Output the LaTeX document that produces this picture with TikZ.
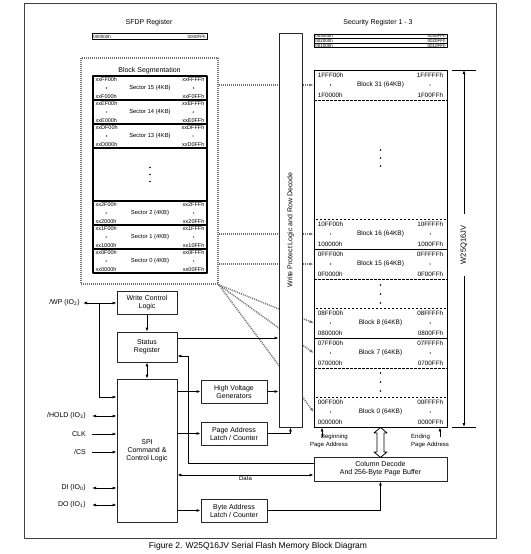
\documentclass[tikz,border=0pt]{standalone}
\usepackage{fontspec}
\setmainfont{Liberation Sans}
\usetikzlibrary{arrows.meta,positioning,calc}

% one sector / block row with its four addresses
\newcommand\memrow[8]
{
\node[#3] (#1) at (#2) {#4};
\node[addr,anchor=north west] (#1tl) at (#1.north west) {#5};
\node[addr,anchor=north east] (#1tr) at (#1.north east) {#6};
\node[addr,anchor=south west] (#1bl) at (#1.south west) {#7};
\node[addr,anchor=south east] (#1br) at (#1.south east) {#8};
\fill (#1tl |- #1) circle (0.7);
\fill (#1tr |- #1) circle (0.7);
}
\newcommand\regrow[4]
{
\node[regbox] (#1) at (380.5,#2) {};
\node[regtxt,anchor=west] (#1l) at (#1.west) {#3};
\node[regtxt,anchor=east] (#1r) at (#1.east) {#4};
}

\begin{document}
\begin{tikzpicture}[x=1pt, y=-1pt, line join=round, >={Latex[length=4pt,width=3pt]},
  lbl/.style={font=\fontsize{7}{8}\selectfont},
  sig/.style={font=\fontsize{7}{8}\selectfont, inner sep=0pt, anchor=east},
  note/.style={font=\fontsize{6}{7.5}\selectfont, inner sep=1pt},
  logic/.style={draw=black!85, line width=0.8pt, fill=white, minimum width=60pt, minimum height=23pt, align=center, font=\fontsize{7}{8}\selectfont, inner sep=1pt},
  regbox/.style={draw, line width=0.7pt, minimum width=133pt, minimum height=4.6pt, inner sep=0pt},
  regtxt/.style={font=\fontsize{4.5}{5}\selectfont, inner sep=1.5pt},
  secbox/.style={draw, line width=1.1pt, minimum width=114pt, minimum height=24pt, inner sep=0pt, font=\fontsize{5.8}{6.5}\selectfont},
  blkbox/.style={draw, line width=0.7pt, dash pattern=on 2.5pt off 1.5pt, minimum width=133pt, minimum height=30pt, inner sep=0pt, font=\fontsize{6.5}{7}\selectfont},
  dotline/.style={draw=black!55, line width=1.5pt, dash pattern=on 1pt off 1pt},
  wire/.style={line width=0.8pt}]
\useasboundingbox (0,0) rectangle (530,554);
\draw[black!75, line width=0.8pt] (24,3) rectangle (496,538);

% SFDP and security registers
\node[lbl] (sfdpt) at (149,23) {SFDP Register};
\node[regbox, minimum width=115pt, minimum height=5.5pt] (sfdp) at (149.5,36.5) {};
\node[regtxt, anchor=west] (sfdpl) at (sfdp.west) {000000h};
\node[regtxt, anchor=east] (sfdpr) at (sfdp.east) {0000FFh};
\node[lbl] (secrt) at (378,23) {Security Register 1 - 3};
\regrow{sr3}{36.3}{003000h}{0030FFh}
\regrow{sr2}{40.9}{002000h}{0020FFh}
\regrow{sr1}{45.5}{001000h}{0010FFh}

% block segmentation
\node[dotline, minimum width=137pt, minimum height=226pt, inner sep=0pt] (seg) at (149.5,171) {};
\node[lbl] (segt) at (149.5,71) {Block Segmentation};
\begin{scope}[addr/.style={font=\fontsize{5.5}{6}\selectfont, inner xsep=3pt, inner ysep=2.2pt}]
\memrow{s15}{150,88}{secbox}{Sector 15 (4KB)}{xxFF00h}{xxFFFFh}{xxF000h}{xxF0FFh}
\memrow{s14}{150,112}{secbox}{Sector 14 (4KB)}{xxEF00h}{xxEFFFh}{xxE000h}{xxE0FFh}
\memrow{s13}{150,136}{secbox}{Sector 13 (4KB)}{xxDF00h}{xxDFFFh}{xxD000h}{xxD0FFh}
\memrow{s2}{150,213}{secbox}{Sector 2 (4KB)}{xx2F00h}{xx2FFFh}{xx2000h}{xx20FFh}
\memrow{s1}{150,237}{secbox}{Sector 1 (4KB)}{xx1F00h}{xx1FFFh}{xx1000h}{xx10FFh}
\memrow{s0}{150,261}{secbox}{Sector 0 (4KB)}{xx0F00h}{xx0FFFh}{xx0000h}{xx00FFh}
\end{scope}
\node[secbox, minimum height=53pt] (sgap) at (150,174.5) {};
\foreach \d in {-7,0,7} \fill (sgap) ++(0,\d) circle (0.8);

% memory array
\begin{scope}[addr/.style={font=\fontsize{6.3}{7}\selectfont, inner xsep=4pt, inner ysep=3pt}]
\memrow{b31}{380.5,85}{blkbox}{Block 31 (64KB)}{1FFF00h}{1FFFFFh}{1F0000h}{1F00FFh}
\memrow{b16}{380.5,234}{blkbox}{Block 16 (64KB)}{10FF00h}{10FFFFh}{100000h}{1000FFh}
\memrow{b15}{380.5,264}{blkbox}{Block 15 (64KB)}{0FFF00h}{0FFFFFh}{0F0000h}{0F00FFh}
\memrow{b8}{380.5,323}{blkbox}{Block 8 (64KB)}{08FF00h}{08FFFFh}{080000h}{0800FFh}
\memrow{b7}{380.5,353}{blkbox}{Block 7 (64KB)}{07FF00h}{07FFFFh}{070000h}{0700FFh}
\memrow{b0}{380.5,412}{blkbox}{Block 0 (64KB)}{00FF00h}{00FFFFh}{000000h}{0000FFh}
\end{scope}
\node[draw, line width=0.9pt, minimum width=133pt, minimum height=357pt, inner sep=0pt] (arr) at (380.5,248.5) {};
\foreach \y in {150,158,166,285,294,303,373,382,391} \fill (380.5,\y) circle (0.8);

% chip size
\coordinate (dtop) at (464,70);
\coordinate (dbot) at (464,427);
\draw[wire] ([xshift=-12pt]dtop) -- ([xshift=12pt]dtop);
\draw[wire] ([xshift=-12pt]dbot) -- ([xshift=12pt]dbot);
\node[rotate=90, font=\fontsize{7.5}{8}\selectfont, inner xsep=12pt] (chip) at (464,245) {W25Q16JV};
\draw[wire,->] (chip.east) -- (dtop);
\draw[wire,->] (chip.west) -- (dbot);

% segmentation links
\draw[dotline,->] (seg.east |- b31.west) -- (b31.west);
\draw[dotline,->] (seg.east |- b16.west) -- (b16.west);
\draw[dotline,->] (seg.east |- b15.west) -- (b15.west);
\foreach \b in {b8,b7,b0} \draw[dotline,->] (seg.south east) -- (\b.west);

% write protect / row decode
\node[logic, minimum width=23pt, minimum height=394pt] (wpl) at (290.5,230) {};
\node[lbl, rotate=90] (wplt) at (wpl) {Write Protect Logic and Row Decode};

% control blocks
\node[logic] (wcl) at (147,302.5) {Write Control\\Logic};
\node[logic, minimum height=30pt] (sreg) at (147,347) {Status\\Register};
\node[logic, minimum height=143pt] (spi) at (147,450.5) {SPI\\Command \&\\Control Logic};
\node[logic, minimum width=66pt] (hvg) at (234,391.5) {High Voltage\\Generators};
\node[logic, minimum width=66pt] (pal) at (234,433.5) {Page Address\\Latch / Counter};
\node[logic, minimum width=66pt] (bal) at (234,510.5) {Byte Address\\Latch / Counter};
\node[logic, minimum width=133pt, minimum height=24pt] (cdb) at (380.5,469) {Column Decode\\And 256-Byte Page Buffer};

% pins
\node[sig] (wp) at (80,303) {/WP (IO\textsubscript{2})};
\node[sig] (hold) at (86,416) {/HOLD (IO\textsubscript{3})};
\node[sig] (clk) at (86,434) {CLK};
\node[sig] (cs) at (86,452) {/CS};
\node[sig] (di) at (86,488) {DI (IO\textsubscript{0})};
\node[sig] (do) at (86,505) {DO (IO\textsubscript{1})};
\draw[wire,<->] ([xshift=3pt]wp.east) -- (wp.east -| wcl.west);
\coordinate (wpj) at (99,303);
\draw[wire,->] (wpj) |- (spi.west |- 0,397);
\draw[wire,<->] ([xshift=6pt]hold.east) -- (hold.east -| spi.west);
\draw[wire,->] ([xshift=6pt]clk.east) -- (clk.east -| spi.west);
\draw[wire,->] ([xshift=6pt]cs.east) -- (cs.east -| spi.west);
\draw[wire,<->] ([xshift=6pt]di.east) -- (di.east -| spi.west);
\draw[wire,<->] ([xshift=6pt]do.east) -- (do.east -| spi.west);

% internal wiring
\draw[wire,->] (wcl) -- (sreg);
\draw[wire,<->] (sreg) -- (spi);
\draw[wire,->] (sreg.east |- 0,338) -- (wpl.west |- 0,338);
\draw[wire,->] (cdb.west |- 0,463) -| (188,356) -- (sreg.east |- 0,356);
\draw[wire,->] (spi.east |- hvg) -- (hvg);
\draw[wire,->] (hvg) -- (hvg -| wpl.west);
\draw[wire,->] (spi.east |- pal) -- (pal);
\draw[wire,->] (pal) -| (wpl);
\draw[wire,<->] (spi.east |- 0,475) -- node[note, below] (data) {Data} (cdb.west |- 0,475);
\draw[wire,->] (spi.east |- bal) -- (bal);
\draw[wire,->] (bal) -| (cdb);

% array <-> page buffer
\draw[wire, fill=white] (arr.south -| cdb) -- ++(6.5,5.5) -- ++(-3,0) -- ++(0,19) -- ++(3,0) -- ++(-6.5,5.5) -- ++(-6.5,-5.5) -- ++(3,0) -- ++(0,-19) -- ++(-3,0) -- cycle;
\node[note, align=right, anchor=north east] (bpa) at (349,433) {Beginning\\Page Address};
\node[note, align=left, anchor=north west] (epa) at (410,433) {Ending\\Page Address};
\coordinate (bpt) at (322,437);
\coordinate (ept) at (440,437);
\draw[wire,->] (bpt) -- (bpt |- arr.south);
\draw[wire,->] (ept) -- (ept |- arr.south);

\node[font=\fontsize{8.5}{10}\selectfont] (cap) at (258,546) {Figure 2. W25Q16JV Serial Flash Memory Block Diagram};
\end{tikzpicture}
\end{document}
